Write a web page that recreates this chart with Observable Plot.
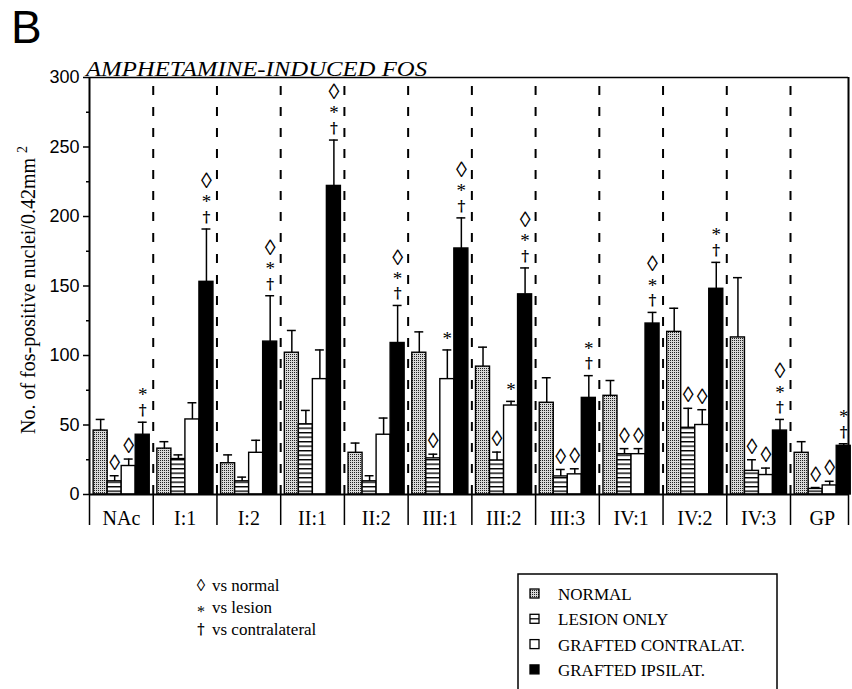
<!DOCTYPE html>
<html><head><meta charset="utf-8">
<script src="https://cdn.jsdelivr.net/npm/d3@7"></script>
<script src="https://cdn.jsdelivr.net/npm/@observablehq/plot@0.6"></script>
<style>body{margin:0;background:#fff} svg{display:block}</style>
</head><body><div id="chart"></div>
<script>
// ---- data ----
const regions = ["NAc","I:1","I:2","II:1","II:2","III:1","III:2","III:3","IV:1","IV:2","IV:3","GP"];
const seriesNames = ["NORMAL","LESION ONLY","GRAFTED CONTRALAT.","GRAFTED IPSILAT."];
const normal    = [46, 33, 22.5, 102, 30, 102, 92, 66, 71, 117, 113, 30];
const normalSem = [8, 5, 6, 16, 7, 15, 14, 18, 11, 17, 43, 8];
const lesion    = [9.5, 25.5, 9.5, 50.5, 9.5, 26, 24.5, 13, 29, 48, 17, 4];
const lesionSem = [4, 3, 3, 10, 4, 3, 6, 5, 4, 14, 8, 1];
const contra    = [20.5, 54, 30, 83, 43, 83, 64, 14.5, 29, 50, 14, 6.5];
const contraSem = [5, 12, 9, 21, 12, 21, 3, 4, 4, 11, 5, 3];
const ipsi      = [43, 153, 110, 222, 109, 177, 144, 69.5, 123, 148, 46, 35];
const ipsiSem   = [9, 38, 33, 33, 27, 22, 19, 16, 8, 19, 8, 1.5];
const normalSig = ["","","","","","","","","","","",""];
const lesionSig = ["◊","","","","","◊","◊","◊","◊","◊","◊","◊"];
const contraSig = ["◊","","","","","*","*","◊","◊","◊","◊","◊"];
const ipsiSig   = ["*†","◊*†","◊*†","◊*†","◊*†","◊*†","◊*†","*†","◊*†","*†","◊*†","*†"];
const yTicks = [0,50,100,150,200,250,300];
const yMinorTicks = [25,75,125,175,225,275];
const symbolKey = [["◊","vs normal"],["*","vs lesion"],["†","vs contralateral"]];

// ---- layout ----
const W = 852, H = 689;
const groupSpan = 11.91;          // visible width in group units (last group is cropped)
const barW = 0.22, barPad = 0.065, capHalf = 0.07;
const serif = "'Liberation Serif', 'Times New Roman', serif";
const sans = "'Liberation Sans', Arial, sans-serif";
const dagFont = "'DejaVu Serif', serif";
const fills = ["url(#stipple)", "url(#stripes)", "#fff", "#000"];

const series = [
  {values: normal, sem: normalSem, sig: normalSig},
  {values: lesion, sem: lesionSem, sig: lesionSig},
  {values: contra, sem: contraSem, sig: contraSig},
  {values: ipsi,   sem: ipsiSem,   sig: ipsiSig}
];
const table = series.flatMap((s, si) => regions.map((r, gi) => {
  const x1 = gi + barPad + si * barW;
  return {region: r, gi, si, value: s.values[gi], top: s.values[gi] + s.sem[gi],
          sig: s.sig[gi], x1, x2: x1 + barW, xc: x1 + barW / 2};
}));
const markers = table.flatMap(d => [...d.sig].reverse().map((ch, k) => ({...d, ch, k})));
// vertical placement (px above the error cap) for each stack slot / glyph
const markerSlots = [
  {k: 0, ch: "†", dy: -12, size: 15, font: dagFont, weight: "bold"},
  {k: 0, ch: "◊", dy: -13, size: 22, font: serif, weight: "normal"},
  {k: 0, ch: "*", dy: -11, size: 19, font: serif, weight: "normal"},
  {k: 1, ch: "*", dy: -27, size: 19, font: serif, weight: "normal"},
  {k: 2, ch: "◊", dy: -48, size: 22, font: serif, weight: "normal"}
];
const bounds = [...d3.range(0, 12), groupSpan];

const plot = Plot.plot({
  width: W, height: H,
  marginLeft: 89, marginRight: 4, marginTop: 77, marginBottom: 195,
  x: {domain: [0, groupSpan], axis: null},
  y: {domain: [0, 300], axis: null},
  style: {fontFamily: serif, background: "#fff", color: "#000"},
  marks: [
    Plot.ruleX(d3.range(1, 12), {y1: 0, y2: 300, stroke: "#000", strokeWidth: 2, strokeDasharray: "9,12"}),
    ...series.map((s, si) => Plot.rectY(table.filter(d => d.si === si),
      {x1: "x1", x2: "x2", y: "value", fill: fills[si], stroke: "#000", strokeWidth: 1.4})),
    Plot.ruleX(table, {x: "xc", y1: "value", y2: "top", stroke: "#000", strokeWidth: 1.5}),
    Plot.ruleY(table, {y: "top", x1: d => d.xc - capHalf, x2: d => d.xc + capHalf, stroke: "#000", strokeWidth: 1.5}),
    ...markerSlots.map(m => Plot.text(markers.filter(d => d.k === m.k && d.ch === m.ch),
      {x: "xc", y: "top", text: "ch", dy: m.dy, fontSize: m.size, fill: "#000", fontFamily: m.font, fontWeight: m.weight})),
    Plot.ruleX([0, groupSpan], {y1: 0, y2: 300, stroke: "#000", strokeWidth: 2}),
    Plot.ruleY([300], {x1: 0, x2: groupSpan, stroke: "#000", strokeWidth: 1.5}),
    Plot.ruleY([0], {x1: 0, x2: groupSpan, stroke: "#000", strokeWidth: 2}),
    Plot.ruleX(bounds, {y1: 0, y2: 0, insetBottom: -31, stroke: "#000", strokeWidth: 1.5}),
    Plot.axisY({ticks: yTicks, tickSize: 6, tickPadding: 4, fontSize: 18, fontFamily: sans, strokeWidth: 1.5, label: null}),
    Plot.axisY({ticks: yMinorTicks, tickSize: 3, tickFormat: () => "", strokeWidth: 1.5, label: null}),
    Plot.text(regions, {x: (d, i) => i + 0.5, y: 0, dy: 24, text: d => d, fontSize: 20, fontFamily: serif, fill: "#000"})
  ]
});

const svg = d3.select(plot);
const defs = svg.insert("defs", ":first-child");
const st = defs.append("pattern").attr("id", "stipple").attr("patternUnits", "userSpaceOnUse")
  .attr("width", 2).attr("height", 2);
st.append("rect").attr("width", 2).attr("height", 2).attr("fill", "#d8d8d8");
st.append("rect").attr("width", 1).attr("height", 1).attr("fill", "#222");
const sp = defs.append("pattern").attr("id", "stripes").attr("patternUnits", "userSpaceOnUse")
  .attr("width", 6).attr("height", 4.5);
sp.append("rect").attr("width", 6).attr("height", 4.5).attr("fill", "#fff");
sp.append("rect").attr("y", 0).attr("width", 6).attr("height", 1.4).attr("fill", "#000");

const g = svg.append("g").style("text-anchor", "start").attr("fill", "#000");
function txt(x, y, family, size) {
  return g.append("text").attr("x", x).attr("y", y)
    .style("font-family", family).style("font-size", size + "px").style("fill", "#000");
}
// panel letter and title
txt(11, 43, sans, 46).text("B");
txt(86, 76, serif, 22).style("font-style", "italic")
  .attr("textLength", 341).attr("lengthAdjust", "spacingAndGlyphs").text("AMPHETAMINE-INDUCED FOS");

// y label
const yl = txt(0, 0, serif, 20).attr("transform", "translate(35,290) rotate(-90)").style("text-anchor", "middle");
yl.append("tspan").text("No. of fos-positive nuclei/0.42mm");
yl.append("tspan").attr("dx", 5).attr("dy", -8).style("font-size", "14px").text("2");

// symbol key
symbolKey.forEach(([sym, label], i) => {
  const y = 586 + i * 22;
  const s = txt(201, y, sym === "†" ? dagFont : serif, sym === "◊" ? 17 : sym === "†" ? 14 : 16)
    .attr("dy", sym === "*" ? "0.55em" : "0.32em").style("text-anchor", "middle").text(sym);
  if (sym === "†") s.style("font-weight", "bold");
  txt(212, y, serif, 17).attr("dy", "0.32em").text(label);
});

// series legend box
g.append("rect").attr("x", 518).attr("y", 574).attr("width", 259).attr("height", 140)
  .attr("fill", "none").attr("stroke", "#000").attr("stroke-width", 1.5);
seriesNames.forEach((name, i) => {
  const y = 594 + i * 25.3;
  g.append("rect").attr("x", 530).attr("y", y - 5).attr("width", 9).attr("height", 9)
    .attr("fill", fills[i] === "url(#stripes)" ? "#fff" : fills[i]).attr("stroke", "#000").attr("stroke-width", 1.3);
  if (i === 1) g.append("line").attr("x1", 530).attr("x2", 539).attr("y1", y - 0.5).attr("y2", y - 0.5)
    .attr("stroke", "#000").attr("stroke-width", 1.3);
  txt(558, y, serif, 17).attr("dy", "0.36em").text(name);
});

document.getElementById("chart").append(plot);
</script>
</body></html>
